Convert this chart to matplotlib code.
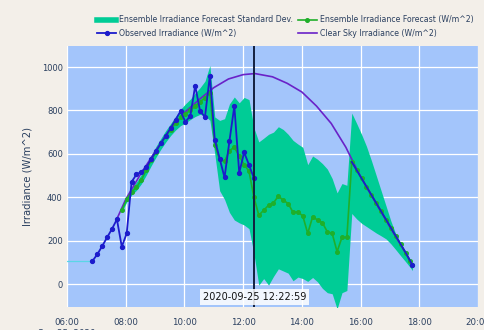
import matplotlib
matplotlib.use("Agg")
import matplotlib.pyplot as plt
from matplotlib.lines import Line2D
import pandas as pd

DAY = "2020-09-25 "

# Observed irradiance, 10-minute samples (W/m^2)
obs_times = ["06:52", "07:02", "07:12", "07:22", "07:32", "07:42", "07:52", "08:02",
             "08:12", "08:22", "08:32", "08:42", "08:52", "09:02", "09:12", "09:22",
             "09:32", "09:42", "09:52", "10:02", "10:12", "10:22", "10:32", "10:42",
             "10:52", "11:02", "11:12", "11:22", "11:32", "11:42", "11:52", "12:02",
             "12:12", "12:22"]
obs_values = [106, 137, 175, 215, 254, 298, 172, 233,
              471, 505, 517, 537, 576, 613, 649, 684,
              719, 758, 796, 747, 775, 914, 797, 770,
              961, 666, 578, 491, 659, 820, 512, 607,
              549, 488]

# Observed trace for the late afternoon
obs_late_times = ["15:42", "15:52", "16:02", "16:12", "16:22", "16:32", "16:42",
                  "16:52", "17:02", "17:12", "17:22", "17:32", "17:42", "17:46"]
obs_late_values = [563, 525, 487, 449, 411, 373, 335, 297, 259, 221, 183, 145, 104, 87]

# Pre-sunrise baseline
base_times = ["05:00", "06:52"]
base_values = [106, 106]

# Ensemble forecast mean (W/m^2)
fc_times = ["07:52", "08:02", "08:12", "08:22", "08:32", "08:42", "08:52", "09:02",
            "09:12", "09:22", "09:32", "09:42", "09:52", "10:02", "10:12", "10:22",
            "10:32", "10:42", "10:52", "11:02", "11:12", "11:22", "11:32", "11:42",
            "11:52", "12:02", "12:12", "12:22", "12:32", "12:42", "12:52", "13:02",
            "13:12", "13:22", "13:32", "13:42", "13:52", "14:02", "14:12", "14:22",
            "14:32", "14:42", "14:52", "15:02", "15:12", "15:22", "15:32", "15:42",
            "15:52", "16:02", "16:12", "16:22", "16:32", "16:42", "16:52", "17:02",
            "17:12", "17:22", "17:32", "17:42", "17:46"]
fc_values = [340, 390, 425, 445, 480, 525, 570, 610,
             648, 682, 712, 742, 768, 785, 800, 820,
             840, 858, 880, 640, 575, 565, 615, 630,
             590, 550, 520, 400, 317, 340, 363, 374,
             405, 386, 371, 330, 333, 313, 233, 310,
             295, 282, 241, 233, 149, 215, 215, 563,
             525, 487, 449, 411, 373, 335, 297, 259,
             221, 183, 145, 104, 87]

# Ensemble spread envelope (mean +/- one standard deviation)
sd_upper = [350, 405, 440, 470, 505, 548, 592, 635,
            672, 708, 740, 772, 805, 830, 852, 880,
            905, 935, 1007, 770, 754, 762, 830, 862,
            835, 860, 850, 720, 655, 672, 690, 700,
            725, 712, 690, 662, 645, 630, 550, 590,
            575, 555, 530, 486, 420, 463, 455, 788,
            740, 690, 635, 570, 500, 430, 360, 290,
            230, 185, 145, 105, 92]
sd_lower = [332, 378, 410, 432, 462, 502, 545, 585,
            622, 655, 685, 710, 730, 742, 758, 772,
            782, 775, 755, 600, 430, 390, 330, 295,
            282, 272, 255, 140, -5, 25, -5, 35,
            70, 60, 50, 15, 32, 25, 12, 30,
            10, -20, -40, -45, -115, -40, -30, 325,
            300, 280, 265, 250, 235, 222, 208, 185,
            158, 130, 103, 75, 62]

# Clear-sky irradiance (W/m^2)
cs_times = ["07:42", "08:00", "08:30", "09:00", "09:30", "10:00", "10:30", "11:00",
            "11:30", "12:00", "12:24", "13:00", "13:30", "14:00", "14:30", "15:00",
            "15:30", "15:42", "16:00", "16:30", "17:00", "17:30", "17:46"]
cs_values = [300, 390, 505, 610, 710, 790, 850, 905,
             945, 965, 970, 955, 925, 885, 820, 740,
             630, 575, 495, 378, 262, 150, 87]

x_ticks = ["06:00", "08:00", "10:00", "12:00", "14:00", "16:00", "18:00", "20:00"]
y_ticks = [0, 200, 400, 600, 800, 1000]
now_label = "2020-09-25 12:22:59"


def ts(times):
    return pd.to_datetime([DAY + t for t in times])


BG = "#f3efe9"
PLOT_BG = "#a3c5fb"
FILL = "#00cc96"
FC = "#1faf2a"
OBS = "#1c1ccc"
CS = "#6a22c8"
NOW = "#13203f"
TXT = "#2a3f5f"

plt.rcParams["font.family"] = ["DejaVu Sans"]

fig = plt.figure(figsize=(4.85, 3.30), dpi=100, facecolor=BG)
ax = fig.add_axes([67 / 485, 1 - 307 / 330, 411 / 485, 261 / 330])
ax.set_facecolor(PLOT_BG)

ax.fill_between(ts(fc_times), sd_lower, sd_upper, color=FILL, lw=0, zorder=2)
ax.plot(ts(base_times), base_values, color="#5ad6e6", lw=0.9, zorder=3)
ax.plot(ts(cs_times), cs_values, color=CS, lw=1.2, zorder=3)
ax.plot(ts(fc_times), fc_values, color=FC, lw=1.2, marker="o", ms=2.6, zorder=4)
ax.plot(ts(obs_times), obs_values, color=OBS, lw=1.3, marker="o", ms=2.8, zorder=5)
ax.plot(ts(obs_late_times), obs_late_values, color=OBS, lw=1.3, marker="o", ms=2.8,
        markevery=[len(obs_late_times) - 1], zorder=5)

now_t = pd.Timestamp(now_label)
ax.axvline(now_t, color=NOW, lw=1.4, zorder=6)
ax.text(now_t, -60, now_label, ha="center", va="center", fontsize=7.0, color="#111111",
        zorder=7, bbox=dict(boxstyle="square,pad=0.3", fc="white", ec="none", alpha=0.85))

ax.set_xlim(pd.Timestamp(DAY + "06:00"), pd.Timestamp(DAY + "20:00"))
ax.set_ylim(-106, 1097)
ax.set_xticks(ts(x_ticks))
ax.set_xticklabels([x_ticks[0] + "\nSep 25, 2020"] + x_ticks[1:])
ax.set_yticks(y_ticks)
ax.grid(True, color="white", lw=0.9)
ax.set_axisbelow(True)
for s in ax.spines.values():
    s.set_visible(False)
ax.tick_params(axis="x", length=0, labelsize=6.2, colors=TXT, pad=8)
ax.tick_params(axis="y", length=0, labelsize=6.0, colors=TXT, pad=3)
ax.set_ylabel("Irradiance (W/m^2)", fontsize=7.2, color=TXT, labelpad=7)

handles = [
    Line2D([], [], color=FILL, lw=4),
    Line2D([], [], color=OBS, lw=1.3, marker="o", ms=2.8),
    Line2D([], [], color=FC, lw=1.2, marker="o", ms=2.6),
    Line2D([], [], color=CS, lw=1.2),
]
labels = ["Ensemble Irradiance Forecast Standard Dev.", "Observed Irradiance (W/m^2)",
          "Ensemble Irradiance Forecast (W/m^2)", "Clear Sky Irradiance (W/m^2)"]
leg = fig.legend(handles, labels, ncol=2, loc="upper left",
                 bbox_to_anchor=(92 / 485, 1 - 10 / 330), frameon=False,
                 fontsize=5.6, handlelength=2.4, handletextpad=0.4,
                 columnspacing=0.6, labelspacing=0.55, borderpad=0.2)
for t in leg.get_texts():
    t.set_color(TXT)

fig.savefig("out.png", dpi=100, facecolor=BG)
